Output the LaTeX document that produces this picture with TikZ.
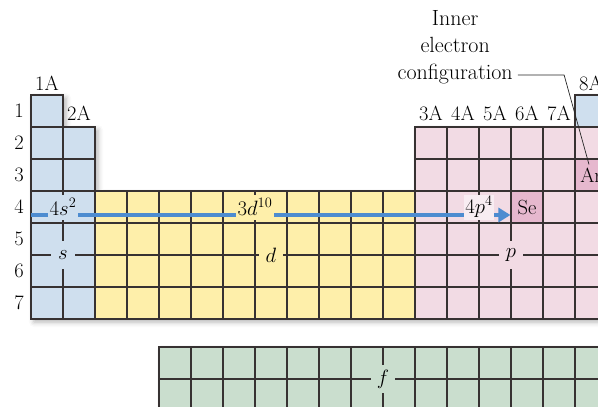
\documentclass[tikz,border=0pt]{standalone}
\usepackage{tikz}
\usetikzlibrary{arrows.meta,positioning,shadows.blur}

\definecolor{sblue}{RGB}{207,223,238}
\definecolor{dyellow}{RGB}{254,239,170}
\definecolor{ppink}{RGB}{242,219,228}
\definecolor{pdark}{RGB}{230,184,206}
\definecolor{fgreen}{RGB}{202,222,206}
\definecolor{eblue}{RGB}{77,140,208}
\definecolor{gridc}{RGB}{55,50,50}

\tikzset{
    every node/.style={font=\fontsize{20.5}{24}\selectfont},
    cell/.style={draw=gridc, line width=1.1pt},
    elemcell/.style={cell, fill=pdark, minimum size=32pt, inner sep=0pt},
    blocklabel/.style={inner sep=0pt, minimum width=24pt, minimum height=28pt},
    conflabel/.style={inner sep=1.5pt, minimum height=25pt},
    elecline/.style={draw=eblue, line width=4.5pt, -{Triangle[length=12pt,width=14pt]}},
    leader/.style={draw=black!85, line width=0.7pt},
    note/.style={align=center, inner sep=0pt, font=\fontsize{22}{27}\selectfont},
    tableshade/.style={blur shadow={shadow xshift=3pt, shadow yshift=-3pt,
        shadow blur radius=5pt, shadow opacity=30}},
}

\begin{document}
\begin{tikzpicture}[x=32pt, y=-32pt]
                \useasboundingbox (-0.96875,-2.96875) rectangle (17.71875,9.75);
                \clip (-0.96875,-2.96875) rectangle (17.71875,9.75);
                \fill[white, tableshade] (0,0) -- (1,0) -- (1,1) -- (2,1) -- (2,3) -- (12,3)
                    -- (12,1) -- (17,1) -- (17,0) -- (18,0) -- (18,7) -- (0,7) -- cycle;
                \fill[white, tableshade] (4,7.875) rectangle (18,9.875);
                % s block
                \foreach \r in {0,...,6}
                    \draw[cell, fill=sblue] (0,\r) rectangle ++(1,1);
                \foreach \r in {1,...,6}
                    \draw[cell, fill=sblue] (1,\r) rectangle ++(1,1);
                % d block
                \foreach \c in {2,...,11}
                    \foreach \r in {3,...,6}
                        \draw[cell, fill=dyellow] (\c,\r) rectangle ++(1,1);
                % p block
                \foreach \c in {12,...,17}
                    \foreach \r in {1,...,6}
                        \draw[cell, fill=ppink] (\c,\r) rectangle ++(1,1);
                \draw[cell, fill=sblue] (17,0) rectangle ++(1,1);
                % f block
                \foreach \c in {4,...,17}
                    \foreach \r in {0,1}
                        \draw[cell, fill=fgreen] (\c,{7.875+\r}) rectangle ++(1,1);
                \node[elemcell] (se) at (15.5,3.5) {Se};
                \node[elemcell] (ar) at (17.5,2.5) {Ar};

                \foreach \r in {1,...,7}
                    \node (row\r) at (-0.375,{\r-0.5}) {\r};
                \node (g1) at (0.5,-0.375) {1A};
                \node (g2) at (1.5,0.56) {2A};
                \foreach \g in {3,...,7}
                    \node (g\g) at ({\g+9.5},0.56) {\g A};
                \node (g8) at (17.5,-0.375) {8A};

                \coordinate (estart) at (0,3.75);
                \draw[elecline] (estart) -- (estart -| se.west);
                \node[conflabel, fill=sblue] (cs) at (1,3.5) {$4s^2$};
                \node[conflabel, fill=dyellow] (cd) at (7,3.5) {$3d^{10}$};
                \node[conflabel, fill=ppink!50!white] (cp) at (14,3.5) {$4p^4$};

                \node[blocklabel, fill=sblue] (sl) at (1,5) {$s$};
                \node[blocklabel, fill=dyellow] (dl) at (7.5,5) {$d$};
                \node[blocklabel, fill=ppink] (pl) at (15,5) {$p$};
                \node[blocklabel, fill=fgreen] (fl) at (11,8.875) {$f$};

                \node[note, anchor=south east] (inner) at (15.06,-0.344)
                    {Inner\\electron\\configuration};
                \coordinate (lstart) at ([shift={(5pt,9pt)}]inner.south east);
                \coordinate (bend) at (16.66,-0.625);
                \draw[leader] (lstart) -- (lstart -| bend) -- ([shift={(-2pt,-6pt)}]ar.north);
\end{tikzpicture}
\end{document}
